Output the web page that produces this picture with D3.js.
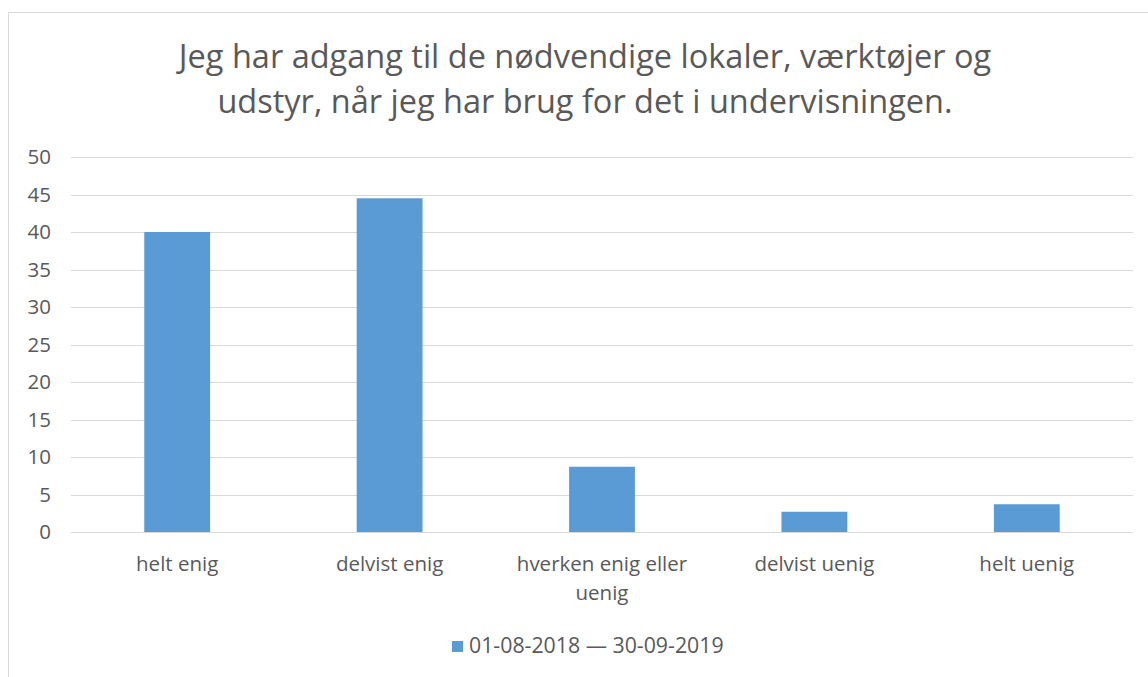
<!DOCTYPE html>
<html><head><meta charset="utf-8">
<script src="https://cdn.jsdelivr.net/npm/d3@7"></script>
<style>body{margin:0;background:#fff;} svg{display:block;font-family:"Open Sans", Lato, sans-serif;}</style>
</head><body>
<svg id="c" width="1148" height="677"></svg>
<script>
const categories = ["helt enig", "delvist enig", "hverken enig eller uenig", "delvist uenig", "helt uenig"];
const categoryLines = [["helt enig"], ["delvist enig"], ["hverken enig eller", "uenig"], ["delvist uenig"], ["helt uenig"]];
const values = [40.0, 44.5, 8.7, 2.7, 3.7];
const yTicks = [0, 5, 10, 15, 20, 25, 30, 35, 40, 45, 50];
const titleLines = ["Jeg har adgang til de nødvendige lokaler, værktøjer og", "udstyr, når jeg har brug for det i undervisningen."];
const seriesName = "01-08-2018 \u2014 30-09-2019";

const svg = d3.select("#c");
const txt = "#595959";
svg.append("rect").attr("x", 8.5).attr("y", 12.5).attr("width", 1160).attr("height", 700)
  .attr("fill", "none").attr("stroke", "#d9d9d9").attr("stroke-width", 1);

const x = d3.scaleBand().domain(categories).range([71, 1133]).padding(0);
const y = d3.scaleLinear().domain([0, 50]).range([532, 157]);

svg.append("g").selectAll("line").data(yTicks).join("line")
  .attr("x1", 71).attr("x2", 1133).attr("y1", d => Math.round(y(d)) + 0.5).attr("y2", d => Math.round(y(d)) + 0.5)
  .attr("stroke", "#d9d9d9").attr("stroke-width", 1);

svg.append("g").selectAll("text").data(yTicks).join("text")
  .attr("x", 51).attr("y", d => y(d)).attr("dy", "0.35em").attr("text-anchor", "end")
  .attr("fill", txt).attr("font-size", 20.5).text(d => d);

const bw = x.bandwidth() * 0.31;
svg.append("g").selectAll("rect").data(values).join("rect")
  .attr("x", (d, i) => x(categories[i]) + x.bandwidth() / 2 - bw / 2)
  .attr("width", bw)
  .attr("y", d => y(d)).attr("height", d => y(0) - y(d))
  .attr("fill", "#5b9bd5");

const xl = svg.append("g").selectAll("text").data(categories).join("text")
  .attr("x", d => x(d) + x.bandwidth() / 2).attr("y", 571)
  .attr("text-anchor", "middle").attr("fill", txt).attr("font-size", 20.5);
xl.each(function(d, i) {
  d3.select(this).selectAll("tspan").data(categoryLines[i]).join("tspan")
    .attr("x", x(d) + x.bandwidth() / 2).attr("dy", (t, j) => j === 0 ? 0 : 29).text(t => t);
});

svg.append("g").selectAll("text").data(titleLines).join("text")
  .attr("x", 585).attr("y", (d, i) => 68 + i * 45).attr("text-anchor", "middle")
  .attr("fill", txt).attr("font-size", 32.5).text(d => d);

svg.append("rect").attr("x", 452).attr("y", 641).attr("width", 11).attr("height", 11).attr("fill", "#5b9bd5");
svg.append("text").attr("x", 469).attr("y", 653).attr("fill", txt).attr("font-size", 21.3).text(seriesName);
</script>
</body></html>
